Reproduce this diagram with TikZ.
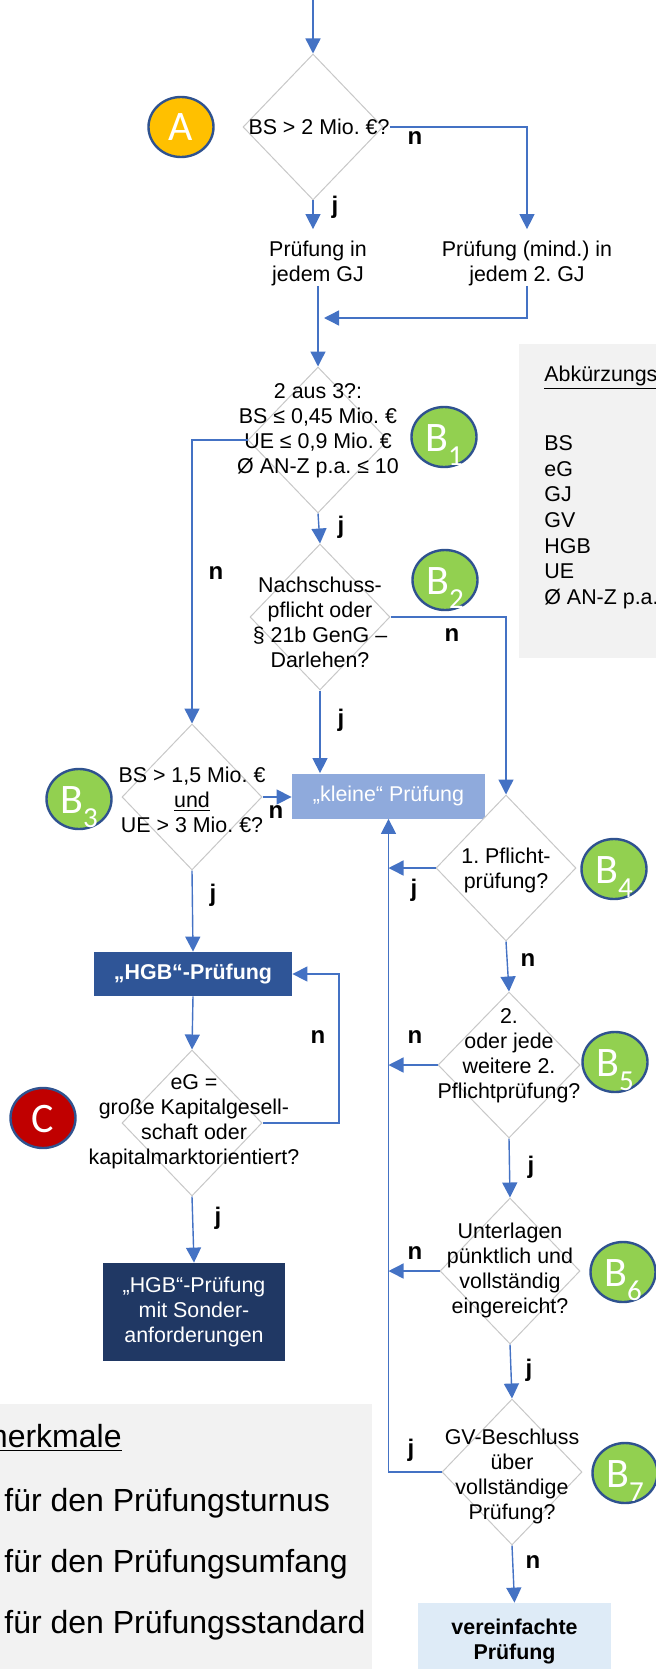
\documentclass[tikz,border=0pt]{standalone}
\usepackage{fontspec}
\setmainfont{Liberation Sans}
\newfontfamily\calibfont{Carlito}
\usetikzlibrary{shapes.geometric,arrows.meta}
\definecolor{lineblue}{HTML}{4472C4}
\definecolor{diagray}{HTML}{C8C8C8}
\definecolor{panelgray}{HTML}{F2F2F2}
\definecolor{kleinefill}{HTML}{8FAADC}
\definecolor{hgbfill}{HTML}{2F5597}
\definecolor{sonderfill}{HTML}{203864}
\definecolor{verfill}{HTML}{DEEBF7}
\definecolor{badgegreen}{HTML}{92D050}
\definecolor{badgeorange}{HTML}{FFC000}
\definecolor{badgered}{HTML}{C00000}
\definecolor{badgeborder}{HTML}{2F528F}
\newcommand\dfont{\fontsize{10.7}{12.5}\selectfont}
\newcommand\legfont{\fontsize{16}{20}\selectfont}
\newcommand\circfont{\calibfont\fontsize{21}{21}\selectfont}
\newcommand\Bsub[1]{B\raisebox{-7pt}{\fontsize{14.5}{14.5}\selectfont #1}}
\frenchspacing
\begin{document}
\frenchspacing
\begin{tikzpicture}[x=0.5pt,y=-0.5pt,
  conn/.style={draw=lineblue, line width=0.7pt},
  arr/.style={conn, -{Triangle[width=7.5pt,length=7.5pt]}},
  dia/.style={diamond, draw=diagray, line width=0.5pt, fill=white, inner sep=0pt,
              minimum width=70pt, minimum height=73pt},
  dtxt/.style={align=center, inner sep=0pt, font=\dfont},
  lab/.style={inner sep=0pt, font=\fontsize{12}{14}\selectfont\bfseries},
  badge/.style={ellipse, draw=badgeborder, line width=1.2pt, inner sep=0pt,
                minimum width=32.5pt, minimum height=30pt, text=white, font=\circfont,
                text height=14pt, text depth=0pt},
  procbox/.style={inner sep=0pt, align=center, font=\dfont},
  abbr/.style={anchor=base west, inner sep=0pt, font=\dfont},
  legtxt/.style={anchor=base west, inner sep=0pt, font=\legfont}
]
\useasboundingbox (0,0) rectangle (656,1669);
\clip (0,0) rectangle (656,1669);

% panels
\fill[panelgray] (519,344) rectangle (690,658);
\fill[panelgray] (-20,1404) rectangle (372,1700);

% abbreviation panel
\node[abbr] (abbhead) at (544,381) {\underline{Abkürzungsverzeichnis}};
\node[abbr] (abbBS)  at (544,450) {BS};
\node[abbr] (abbeG)  at (544,476) {eG};
\node[abbr] (abbGJ)  at (544,501) {GJ};
\node[abbr] (abbGV)  at (544,527) {GV};
\node[abbr] (abbHGB) at (544,553) {HGB};
\node[abbr] (abbUE)  at (544,578) {UE};
\node[abbr] (abbAN)  at (544,604) {Ø AN-Z p.a.};

% legend panel
\node[anchor=base east, inner sep=0pt, font=\legfont] (leghead) at (122,1447) {\underline{merkmale}};
\node[legtxt] (leg1) at (4,1511) {für den Prüfungsturnus};
\node[legtxt] (leg2) at (4,1572) {für den Prüfungsumfang};
\node[legtxt] (leg3) at (4,1633) {für den Prüfungsstandard};

% decision A
\coordinate (start) at (313,0);
\node[dia] (dA) at (313,127) {};
\node[dtxt] (tA) at (319,127) {BS > 2 Mio. €?};
\node[badge, fill=badgeorange] (bA) at (181,127) {A};
\node[dtxt] (pj1) at (318,263) {Prüfung in\\jedem GJ};
\node[dtxt] (pj2) at (527,263) {Prüfung (mind.) in\\jedem 2. GJ};
\coordinate (mrg) at (324,318);

% B1
\node[dia] (dB1) at (318,440) {};
\node[dtxt] (tB1) at (318,431) {2 aus 3?:\\BS ≤ 0,45 Mio. €\\UE ≤ 0,9 Mio. €\\Ø AN-Z p.a. ≤ 10};
\node[badge, fill=badgegreen] (bB1) at (444,437) {\Bsub{1}};

% B2
\node[dia] (dB2) at (320,617) {};
\node[dtxt] (tB2) at (320,622) {Nachschuss-\\pflicht oder\\§ 21b GenG –\\Darlehen?};
\node[badge, fill=badgegreen] (bB2) at (445,580) {\Bsub{2}};

% kleine Pruefung
\node[procbox, fill=kleinefill, text=white, minimum width=96.5pt, minimum height=22.5pt] (kl) at (388.5,796) {„kleine“ Prüfung};

% B3
\node[dia] (dB3) at (192,797) {};
\node[dtxt] (tB3) at (192,800) {BS > 1,5 Mio. €\\\underline{und}\\UE > 3 Mio. €?};
\node[badge, fill=badgegreen] (bB3) at (79,799) {\Bsub{3}};

% HGB
\node[procbox, fill=hgbfill, text=white, font=\dfont\bfseries, minimum width=99pt, minimum height=22pt] (hgb) at (193,974) {„HGB“-Prüfung};

% B4
\node[dia] (dB4) at (506,868) {};
\node[dtxt] (tB4) at (506,870) {1. Pflicht-\\prüfung?};
\node[badge, fill=badgegreen] (bB4) at (614,869) {\Bsub{4}};

% B5
\node[dia, minimum width=71pt] (dB5) at (509,1065) {};
\node[dtxt] (tB5) at (509,1056) {2.\\oder jede\\weitere 2.\\Pflichtprüfung?};
\node[badge, fill=badgegreen] (bB5) at (615,1062) {\Bsub{5}};

% C
\node[dia] (dC) at (192,1123) {};
\node[dtxt] (tC) at (194,1122) {eG =\\große Kapitalgesell-\\schaft oder\\kapitalmarktorientiert?};
\node[badge, fill=badgered] (bC) at (43,1118) {C};
\coordinate (cl) at (339,1123);

% Sonder
\node[procbox, fill=sonderfill, text=white, minimum width=91pt, minimum height=49pt] (son) at (194,1312) {„HGB“-Prüfung\\mit Sonder-\\anforderungen};

% B6
\node[dia] (dB6) at (510,1271) {};
\node[dtxt] (tB6) at (510,1270) {Unterlagen\\pünktlich und\\vollständig\\eingereicht?};
\node[badge, fill=badgegreen] (bB6) at (623,1272) {\Bsub{6}};

% B7
\node[dia] (dB7) at (512,1472) {};
\node[dtxt] (tB7) at (512,1476) {GV-Beschluss\\über\\vollständige\\Prüfung?};
\node[badge, fill=badgegreen] (bB7) at (625,1473) {\Bsub{7}};

% vereinfachte
\node[procbox, fill=verfill, font=\dfont\bfseries, minimum width=96.5pt, minimum height=38pt] (ver) at (514.5,1641) {vereinfachte\\Prüfung};

% connectors
\draw[arr] (start) -- (dA.north);
\draw[arr, shorten >=5.5pt] (tA.east) -| (pj2.north);
\draw[arr, shorten >=5.5pt] (dA.south) -- (dA.south |- pj1.north);
\draw[arr] (pj1.south) -- (dB1.north);
\draw[arr] (pj2.south) |- (mrg);
\draw[arr] (dB1.west) -| (dB3.north);
\draw[arr] (dB1.south) -- (dB2.north);
\draw[arr] (dB2.east) -| (dB4.north);
\draw[arr] (dB2.south) -- (dB2.south |- kl.north);
\draw[arr] (dB3.east) -- (kl.west |- dB3.east);
\draw[arr] (dB3.south) -- (hgb.north);
\draw[arr] (hgb.south) -- (dC.north);
\draw[arr] (dC.east) -- (cl) |- (hgb.east);
\draw[arr] (dC.south) -- (son.north);
\draw[arr] (dB4.west) -- (dB4.west -| kl.south);
\draw[arr] (dB4.south) -- (dB5.north);
\draw[arr] (dB5.west) -- (dB5.west -| kl.south);
\draw[arr] (dB5.south) -- (dB6.north);
\draw[arr] (dB6.west) -- (dB6.west -| kl.south);
\draw[arr] (dB6.south) -- (dB7.north);
\draw[arr] (dB7.west) -| (kl.south);
\draw[arr] (dB7.south) -- (ver.north);

% labels
\node[lab] (lAn)  at (415,138)  {n};
\node[lab] (lAj)  at (335,207)  {j};
\node[lab] (lB1j) at (341,527)  {j};
\node[lab] (lB1n) at (216,573)  {n};
\node[lab] (lB2n) at (452,635)  {n};
\node[lab] (lB2j) at (341,720)  {j};
\node[lab] (lB3n) at (276,812)  {n};
\node[lab] (lB3j) at (213,895)  {j};
\node[lab] (lB4j) at (414,890)  {j};
\node[lab] (lB4n) at (528,960)  {n};
\node[lab] (lCn)  at (318,1037) {n};
\node[lab] (lB5n) at (415,1037) {n};
\node[lab] (lB5j) at (531,1167) {j};
\node[lab] (lCj)  at (218,1218) {j};
\node[lab] (lB6n) at (415,1253) {n};
\node[lab] (lB6j) at (529,1370) {j};
\node[lab] (lB7j) at (411,1450) {j};
\node[lab] (lB7n) at (533,1562) {n};
\end{tikzpicture}
\end{document}
